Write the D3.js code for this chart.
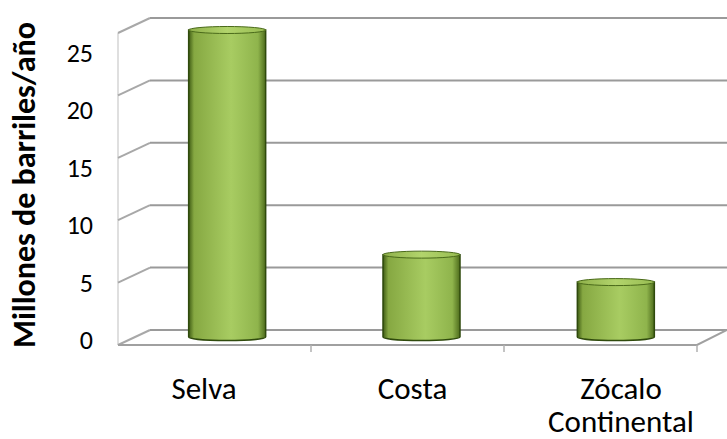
<!DOCTYPE html>
<html>
<head>
<meta charset="utf-8">
<script src="https://cdn.jsdelivr.net/npm/d3@7"></script>
<style>
  html, body { margin: 0; padding: 0; background: #fff; }
  svg { display: block; }
</style>
</head>
<body>
<div id="chart"></div>
<script>
const categories = ['Selva', 'Costa', 'Zócalo Continental'];
const values = [24.6, 6.6, 4.4];
const yTicks = [0, 5, 10, 15, 20, 25];
const yTitle = 'Millones de barriles/año';

const width = 727, height = 439;
const font = "Carlito, Calibri, 'Open Sans', 'Noto Sans', sans-serif";

const svg = d3.select('#chart').append('svg')
    .attr('width', width).attr('height', height);

const defs = svg.append('defs');
const grad = defs.append('linearGradient').attr('id', 'cyl').attr('x1', 0).attr('x2', 1);
[[0, '#3f5c14'], [0.07, '#86a842'], [0.55, '#a8cc62'], [0.9, '#8fb44c'], [1, '#4d6b1c']]
    .forEach(([o, c]) => grad.append('stop').attr('offset', o).attr('stop-color', c));
const capGrad = defs.append('linearGradient').attr('id', 'cap').attr('x1', 0).attr('x2', 1);
[[0, '#8fb04a'], [0.5, '#b2d46c'], [1, '#98bc52']]
    .forEach(([o, c]) => capGrad.append('stop').attr('offset', o).attr('stop-color', c));

// back wall, front edge and mid-depth (bars) vertical scales
const yBack = d3.scaleLinear().domain([0, 25]).range([330, 18]);
const yFront = d3.scaleLinear().domain([0, 25]).range([345, 33]);
const yMid = d3.scaleLinear().domain([0, 25]).range([337, 25]);

const backX0 = 150, frontX0 = 118;
const xBar = d3.scalePoint().domain(categories).range([130, 713]).padding(0.5);
const xLabel = d3.scalePoint().domain(categories).range([204, 621]);
const xFront = d3.scaleLinear().domain([0, categories.length]).range([frontX0, 697]);

// left wall vertical edge
svg.append('line')
    .attr('x1', frontX0).attr('x2', frontX0)
    .attr('y1', yFront(25)).attr('y2', yFront(0))
    .attr('stroke', '#d4d4d4').attr('stroke-width', 1.5);

// gridlines: slanted side wall part + horizontal back wall part
const grid = svg.append('g');
yTicks.forEach(t => {
    grid.append('path')
        .attr('d', `M${frontX0},${yFront(t)}L${backX0},${yBack(t)}`)
        .attr('stroke', '#a8a8a8').attr('stroke-width', 2).attr('fill', 'none');
    grid.append('line')
        .attr('x1', backX0).attr('x2', width)
        .attr('y1', yBack(t)).attr('y2', yBack(t))
        .attr('stroke', '#9a9a9a').attr('stroke-width', 2);
});

// floor front edge
svg.append('path')
    .attr('d', `M${frontX0},${yFront(0)}L${xFront(3)},${yFront(0)}L${width},${yBack(0)}`)
    .attr('stroke', '#a0a0a0').attr('stroke-width', 2).attr('fill', 'none');

// category tick marks on floor
svg.append('g').selectAll('line')
    .data(d3.range(1, categories.length + 1))
    .join('line')
    .attr('x1', d => xFront(d)).attr('x2', d => xFront(d))
    .attr('y1', yFront(0)).attr('y2', yFront(0) + 7)
    .attr('stroke', '#b0b0b0').attr('stroke-width', 1.5);

// cylinders
const barW = 77, capRy = 3.5;
const bars = svg.append('g').selectAll('g')
    .data(categories.map((c, i) => ({ c, v: values[i] })))
    .join('g');

bars.append('path')
    .attr('d', d => {
        const x0 = xBar(d.c) - barW / 2, x1 = xBar(d.c) + barW / 2;
        const yt = yMid(d.v), yb = yMid(0);
        return `M${x0},${yt}L${x0},${yb}A${barW / 2},${capRy} 0 0 0 ${x1},${yb}L${x1},${yt}Z`;
    })
    .attr('fill', 'url(#cyl)')
    .attr('stroke', '#2f4a0c').attr('stroke-width', 1.5);

bars.append('ellipse')
    .attr('cx', d => xBar(d.c)).attr('cy', d => yMid(d.v))
    .attr('rx', barW / 2).attr('ry', capRy)
    .attr('fill', 'url(#cap)')
    .attr('stroke', '#4a6a1a').attr('stroke-width', 1);

// y tick labels
svg.append('g').selectAll('text')
    .data(yTicks)
    .join('text')
    .attr('x', 93)
    .attr('y', d => 340 - d * 11.5)
    .attr('dy', '0.35em')
    .attr('text-anchor', 'end')
    .attr('font-family', font).attr('font-size', 26).attr('fill', '#000')
    .text(d => d);

// y axis title
svg.append('text')
    .attr('transform', 'translate(35,185) rotate(-90)')
    .attr('text-anchor', 'middle')
    .attr('font-family', font).attr('font-size', 32).attr('font-weight', 'bold')
    .attr('fill', '#000')
    .text(yTitle);

// category labels
const catLabels = svg.append('g').selectAll('text')
    .data(categories)
    .join('text')
    .attr('x', d => xLabel(d))
    .attr('y', 399)
    .attr('text-anchor', 'middle')
    .attr('font-family', font).attr('font-size', 31).attr('fill', '#000');
catLabels.each(function (d) {
    const words = d.split(' ');
    const t = d3.select(this);
    words.forEach((w, i) => {
        t.append('tspan').attr('x', t.attr('x')).attr('dy', i === 0 ? 0 : 33).text(w);
    });
});
</script>
</body>
</html>
